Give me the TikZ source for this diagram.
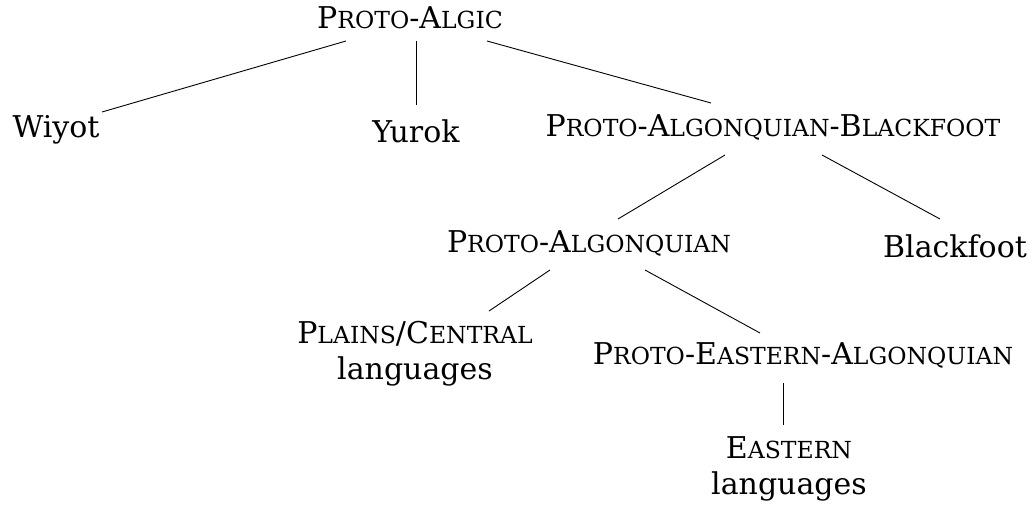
\documentclass[tikz,border=0pt]{standalone}
\usepackage{fontspec}
\setmainfont{DejaVu Serif}
\usetikzlibrary{calc}
\newcommand\smc[1]{{\fontsize{23.5}{28}\selectfont #1}}
\begin{document}
\begin{tikzpicture}[x=1pt,y=-1pt,
  lang/.style={font=\fontsize{30}{36}\selectfont, inner sep=0pt, align=center},
  edge/.style={draw, line width=0.9pt}]
\useasboundingbox (0,0) rectangle (1034,505);
\node[lang] (algic) at (410,18) {P\smc{ROTO}-A\smc{LGIC}};
\node[lang] (wiyot) at (56,130) {Wiyot};
\node[lang] (yurok) at (416,131) {Yurok};
\node[lang] (pab) at (773,127) {P\smc{ROTO}-A\smc{LGONQUIAN}-B\smc{LACKFOOT}};
\node[lang] (pa) at (589,243) {P\smc{ROTO}-A\smc{LGONQUIAN}};
\node[lang] (bf) at (955,246) {Blackfoot};
\node[lang] (pc) at (415,354) {P\smc{LAINS}/C\smc{ENTRAL}\\languages};
\node[lang] (pea) at (803,355) {P\smc{ROTO}-E\smc{ASTERN}-A\smc{LGONQUIAN}};
\node[lang] (east) at (789,469) {E\smc{ASTERN}\\languages};
\draw[edge] ($(algic.center)+(-64,23)$) -- ($(wiyot.center)+(46,-18)$);
\draw[edge] ($(algic.center)+(6,23)$) -- ($(yurok.center)+(0,-26)$);
\draw[edge] ($(algic.center)+(77,23)$) -- ($(pab.center)+(-62,-24)$);
\draw[edge] ($(pab.center)+(-48,28)$) -- ($(pa.center)+(29,-24)$);
\draw[edge] ($(pab.center)+(49,28)$) -- ($(bf.center)+(-15,-27)$);
\draw[edge] ($(pa.center)+(-39,27)$) -- ($(pc.center)+(74,-43)$);
\draw[edge] ($(pa.center)+(56,27)$) -- ($(pea.center)+(-43,-22)$);
\draw[edge] ($(pea.center)+(-20,28)$) -- ($(east.center)+(-6,-44)$);
\end{tikzpicture}
\end{document}
